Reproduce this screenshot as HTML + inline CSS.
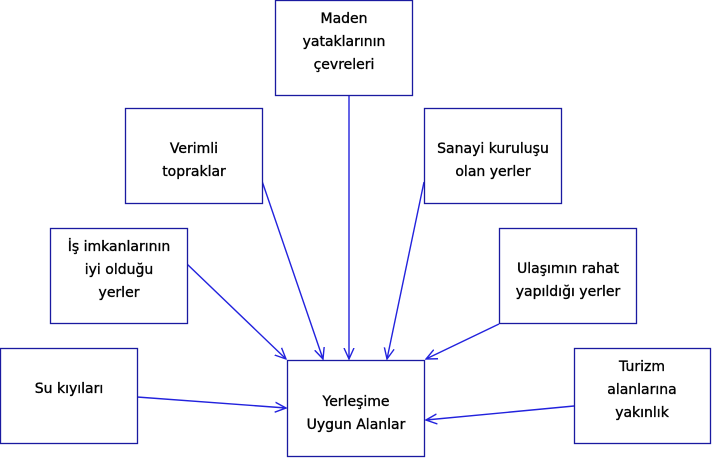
<!DOCTYPE html>
<html><head><meta charset="utf-8"><style>
html,body{margin:0;padding:0;background:#fff;}
svg{display:block;}
text{font-family:"DejaVu Sans","Liberation Sans",sans-serif;font-size:14px;fill:#000;stroke:#000;stroke-width:0.35;text-anchor:middle;}
rect{fill:#fff;stroke:#1a1aa0;stroke-width:1.3;}
line{stroke:#2222dd;stroke-width:1.4;}
path.ah{fill:none;stroke:#2222dd;stroke-width:1.4;}
</style></head><body>
<svg width="713" height="458" viewBox="0 0 713 458" xmlns="http://www.w3.org/2000/svg">
<defs><marker id="a" markerWidth="12" markerHeight="12" refX="11" refY="6" orient="auto" markerUnits="userSpaceOnUse"><path class="ah" d="M0,1 L11,6 L0,11"/></marker></defs>
<line x1="349" y1="96" x2="349" y2="359" marker-end="url(#a)"/>
<line x1="262" y1="181" x2="323" y2="359" marker-end="url(#a)"/>
<line x1="424" y1="182" x2="387" y2="359" marker-end="url(#a)"/>
<line x1="187" y1="264" x2="286" y2="359" marker-end="url(#a)"/>
<line x1="499" y1="324" x2="426" y2="359" marker-end="url(#a)"/>
<line x1="137" y1="397" x2="286" y2="408" marker-end="url(#a)"/>
<line x1="574" y1="406" x2="426" y2="420" marker-end="url(#a)"/>
<rect x="275.5" y="0.5" width="137" height="95"/>
<text x="344" y="23">Maden</text><text x="344" y="46">yataklarının</text><text x="344" y="69">çevreleri</text>
<rect x="125.5" y="108.5" width="137" height="95"/>
<text x="194" y="153">Verimli</text><text x="194" y="176">topraklar</text>
<rect x="424.5" y="108.5" width="137" height="95"/>
<text x="493" y="153">Sanayi kuruluşu</text><text x="493" y="176">olan yerler</text>
<rect x="50.5" y="228.5" width="137" height="95"/>
<text x="119" y="251">İş imkanlarının</text><text x="119" y="274">iyi olduğu</text><text x="119" y="297">yerler</text>
<rect x="499.5" y="228.5" width="137" height="95"/>
<text x="568" y="273">Ulaşımın rahat</text><text x="568" y="296">yapıldığı yerler</text>
<rect x="0.5" y="348.5" width="137" height="95"/>
<text x="69" y="393">Su kıyıları</text>
<rect x="574.5" y="348.5" width="136" height="95"/>
<text x="642" y="371">Turizm</text><text x="642" y="394">alanlarına</text><text x="642" y="417">yakınlık</text>
<rect x="287.5" y="360.5" width="137" height="96"/>
<text x="356" y="406">Yerleşime</text><text x="356" y="429">Uygun Alanlar</text>
</svg>
</body></html>
